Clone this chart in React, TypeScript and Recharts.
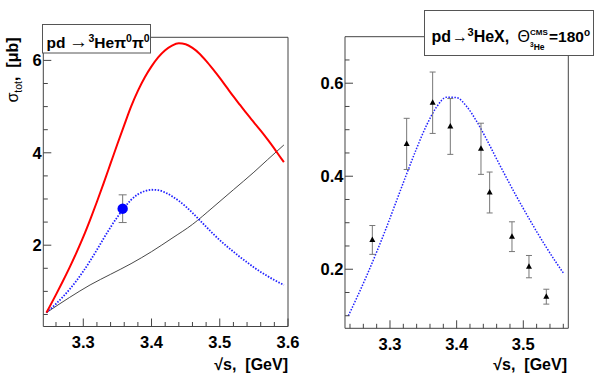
import { ComposedChart, Line, Scatter, XAxis, YAxis, ErrorBar, ReferenceArea } from 'recharts';

// left panel: pd -> 3He pi0 pi0, total cross section [mub] vs sqrt(s) [GeV]
const redCurve = [
  [3.246, 0.54], [3.26, 0.93], [3.27, 1.22], [3.28, 1.52], [3.29, 1.84], [3.3, 2.18],
  [3.31, 2.55], [3.32, 2.94], [3.33, 3.35], [3.34, 3.77], [3.35, 4.19], [3.36, 4.6],
  [3.37, 5.0], [3.38, 5.34], [3.39, 5.63], [3.4, 5.87], [3.41, 6.07], [3.42, 6.22],
  [3.43, 6.32], [3.44, 6.37], [3.45, 6.35], [3.46, 6.27], [3.47, 6.15], [3.48, 5.99],
  [3.49, 5.81], [3.5, 5.62], [3.51, 5.42], [3.52, 5.22], [3.53, 5.03], [3.54, 4.84],
  [3.55, 4.66], [3.56, 4.48], [3.57, 4.29], [3.58, 4.09], [3.59, 3.88], [3.594, 3.8],
];
const blueCurve = [
  [3.246, 0.54], [3.26, 0.73], [3.27, 0.88], [3.28, 1.045], [3.29, 1.23], [3.3, 1.435],
  [3.31, 1.66], [3.32, 1.9], [3.33, 2.15], [3.34, 2.39], [3.35, 2.61], [3.36, 2.81],
  [3.37, 2.98], [3.38, 3.1], [3.39, 3.17], [3.4, 3.2], [3.41, 3.19], [3.42, 3.14],
  [3.43, 3.06], [3.44, 2.96], [3.45, 2.84], [3.46, 2.7], [3.47, 2.55], [3.48, 2.4],
  [3.49, 2.25], [3.5, 2.11], [3.51, 1.98], [3.52, 1.86], [3.53, 1.74], [3.54, 1.63],
  [3.55, 1.52], [3.56, 1.42], [3.57, 1.33], [3.58, 1.245], [3.594, 1.14],
];
const blackCurve = [
  [3.246, 0.54], [3.28, 0.87], [3.31, 1.14], [3.34, 1.37], [3.37, 1.6], [3.4, 1.86],
  [3.43, 2.15], [3.46, 2.45], [3.49, 2.82], [3.52, 3.2], [3.55, 3.58], [3.57, 3.85],
  [3.594, 4.17],
];
const leftPoint = [{ x: 3.3577, y: 2.79, err: 0.3 }];

// right panel: pd -> 3He X at 180 deg
const rightCurve = [
  [3.2375, 0.1], [3.25, 0.138], [3.265, 0.186], [3.28, 0.237], [3.295, 0.291], [3.31, 0.348],
  [3.325, 0.405], [3.34, 0.46], [3.355, 0.51], [3.37, 0.549], [3.385, 0.57], [3.4, 0.569],
  [3.415, 0.55], [3.43, 0.518], [3.445, 0.479], [3.46, 0.437], [3.475, 0.396], [3.49, 0.356],
  [3.505, 0.318], [3.52, 0.281], [3.535, 0.246], [3.55, 0.213], [3.56, 0.192],
];
const rightX = [3.2735, 3.325, 3.364, 3.3905, 3.4365, 3.4495, 3.483, 3.5085, 3.5345];
const rightY = [0.263, 0.4695, 0.558, 0.507, 0.459, 0.365, 0.27, 0.2056, 0.141];
const rightErr = [0.031, 0.055, 0.066, 0.06, 0.055, 0.044, 0.032, 0.024, 0.016];

const leftXTicks = [3.26, 3.28, 3.3, 3.32, 3.34, 3.36, 3.38, 3.4, 3.42, 3.44, 3.46, 3.48, 3.5, 3.52, 3.54, 3.56, 3.58, 3.6];
const leftXMajor = [3.3, 3.4, 3.5, 3.6];
const leftYTicks = [0.5, 1, 1.5, 2, 2.5, 3, 3.5, 4, 4.5, 5, 5.5, 6];
const leftYMajor = [2, 4, 6];
const rightXTicks = [3.24, 3.26, 3.28, 3.3, 3.32, 3.34, 3.36, 3.38, 3.4, 3.42, 3.44, 3.46, 3.48, 3.5, 3.52, 3.54, 3.56];
const rightXMajor = [3.3, 3.4, 3.5];
const rightYTicks = [0.1, 0.15, 0.2, 0.25, 0.3, 0.35, 0.4, 0.45, 0.5, 0.55, 0.6, 0.65];
const rightYMajor = [0.2, 0.4, 0.6];

const toXY = (arr: number[][]) => arr.map(([x, y]) => ({ x, y }));
const rightPoints = rightX.map((x, i) => ({ x, y: rightY[i], err: rightErr[i] }));

const FONT = '"Liberation Sans", Arial, Helvetica, sans-serif';
const TICK_COLOR = '#444';
const NB = '\u00A0';

const isIn = (list: number[], v: number) => list.some((m) => Math.abs(m - v) < 1e-6);

function xTick(majors: number[], fmt: (v: number) => string) {
  return (props: any) => {
    const { x, y, payload } = props;
    const major = isIn(majors, payload.value);
    return (
      <g>
        <line x1={x} x2={x} y1={y} y2={y - (major ? 8 : 4.5)} stroke={TICK_COLOR} strokeWidth={1} />
        {major && (
          <text x={x} y={y + 21.5} textAnchor="middle" fontFamily={FONT} fontWeight="bold" fontSize={16.5} fill="#000">
            {fmt(payload.value)}
          </text>
        )}
      </g>
    );
  };
}

function yTick(majors: number[], fmt: (v: number) => string) {
  return (props: any) => {
    const { x, y, payload } = props;
    const major = isIn(majors, payload.value);
    return (
      <g>
        <line x1={x} x2={x + (major ? 8 : 4.5)} y1={y} y2={y} stroke={TICK_COLOR} strokeWidth={1} />
        {major && (
          <text x={x - 1.5} y={y + 6} textAnchor="end" fontFamily={FONT} fontWeight="bold" fontSize={16.5} fill="#000">
            {fmt(payload.value)}
          </text>
        )}
      </g>
    );
  };
}

const triangle = (props: any) => {
  const { cx, cy } = props;
  return <polygon points={`${cx},${cy - 3.5} ${cx - 3},${cy + 2} ${cx + 3},${cy + 2}`} fill="#000" />;
};

const blueDot = (props: any) => <circle cx={props.cx} cy={props.cy} r={5.2} fill="#0000ff" />;

const LX: [number, number] = [3.2414, 3.6];
const LY: [number, number] = [0.24, 6.5];
const RX: [number, number] = [3.2325, 3.5675];
const RY: [number, number] = [0.073, 0.7];

export default function App() {
  return (
    <div style={{ position: 'absolute', left: 0, top: 0, width: 598, height: 378, background: '#fff' }}>
      <div style={{ position: 'absolute', left: 0, top: 0 }}>
        <ComposedChart width={300} height={378} margin={{ top: 37.3, right: 12, bottom: 0, left: 0 }}>
          <XAxis type="number" dataKey="x" domain={LX} allowDataOverflow ticks={leftXTicks} interval={0}
            height={51.5} tickSize={0} tickMargin={0} axisLine={false} tickLine={false}
            tick={xTick(leftXMajor, (v) => v.toFixed(1))} />
          <YAxis type="number" dataKey="y" domain={LY} allowDataOverflow ticks={leftYTicks} interval={0}
            width={43.3} tickSize={0} tickMargin={0} axisLine={false} tickLine={false}
            tick={yTick(leftYMajor, (v) => String(v))} />
          <ReferenceArea x1={LX[0]} x2={LX[1]} y1={LY[0]} y2={LY[1]} fill="none" stroke="#444" strokeWidth={1} />
          <Line data={toXY(blackCurve)} dataKey="y" type="monotone" stroke="#333" strokeWidth={0.9} dot={false} isAnimationActive={false} />
          <Line data={toXY(blueCurve)} dataKey="y" type="monotone" stroke="#2020ff" strokeWidth={1.8} strokeDasharray="1.5 1.5" dot={false} isAnimationActive={false} />
          <Line data={toXY(redCurve)} dataKey="y" type="monotone" stroke="#ff0000" strokeWidth={2} dot={false} isAnimationActive={false} />
          <Scatter data={leftPoint} dataKey="y" shape={blueDot} isAnimationActive={false}>
            <ErrorBar dataKey="err" direction="y" width={4} stroke="#777" strokeWidth={1} />
          </Scatter>
        </ComposedChart>
      </div>
      <div style={{ position: 'absolute', left: 300, top: 0 }}>
        <ComposedChart width={298} height={378} margin={{ top: 36.7, right: 29.7, bottom: 0, left: 0 }}>
          <XAxis type="number" dataKey="x" domain={RX} allowDataOverflow ticks={rightXTicks} interval={0}
            height={49.7} tickSize={0} tickMargin={0} axisLine={false} tickLine={false}
            tick={xTick(rightXMajor, (v) => v.toFixed(1))} />
          <YAxis type="number" dataKey="y" domain={RY} allowDataOverflow ticks={rightYTicks} interval={0}
            width={45} tickSize={0} tickMargin={0} axisLine={false} tickLine={false}
            tick={yTick(rightYMajor, (v) => v.toFixed(1))} />
          <ReferenceArea x1={RX[0]} x2={RX[1]} y1={RY[0]} y2={RY[1]} fill="none" stroke="#444" strokeWidth={1} />
          <Line data={toXY(rightCurve)} dataKey="y" type="monotone" stroke="#2020ff" strokeWidth={1.5} strokeDasharray="1.5 1.5" dot={false} isAnimationActive={false} />
          <Scatter data={rightPoints} dataKey="y" shape={triangle} isAnimationActive={false}>
            <ErrorBar dataKey="err" direction="y" width={3} stroke="#777" strokeWidth={1} />
          </Scatter>
        </ComposedChart>
      </div>
      <svg width={598} height={378} style={{ position: 'absolute', left: 0, top: 0, pointerEvents: 'none' }}>
        {/* left title box */}
        <rect x={42.5} y={24.5} width={108} height={28.5} fill="#fff" stroke="#555" strokeWidth={1} />
        <text y={47.5} fontFamily={FONT} fontWeight="bold" fontSize={15.5} fill="#000">
          <tspan x={46.5}>pd</tspan>
          <tspan x={69} fontWeight="normal" fontSize={19}>→</tspan>
          <tspan x={88.5} dy={-6} fontSize={10.5}>3</tspan>
          <tspan dy={6}>He</tspan>
          <tspan>π</tspan>
          <tspan dy={-6} fontSize={10.5}>0</tspan>
          <tspan dy={6}>π</tspan>
          <tspan dy={-6} fontSize={10.5}>0</tspan>
        </text>
        {/* right title box */}
        <rect x={424.5} y={10.5} width={169} height={45} fill="#fff" stroke="#555" strokeWidth={1} />
        <text y={41.5} fontFamily={FONT} fontWeight="bold" fontSize={16} fill="#000">
          <tspan x={431.5}>pd</tspan>
          <tspan x={452} fontWeight="normal" fontSize={16}>→</tspan>
          <tspan x={467.5} dy={-6} fontSize={11}>3</tspan>
          <tspan dy={6}>HeX,</tspan>
          <tspan x={517.5} fontWeight="normal">Θ</tspan>
        </text>
        <text x={530} y={35} fontFamily={FONT} fontWeight="bold" fontSize={8} fill="#000">CMS</text>
        <text y={49.5} fontFamily={FONT} fontWeight="bold" fontSize={8.5} fill="#000">
          <tspan x={530} dy={-3} fontSize={6.5}>3</tspan>
          <tspan dy={3}>He</tspan>
        </text>
        <text x={549} y={41.5} fontFamily={FONT} fontWeight="bold" fontSize={15.5} fill="#000">
          =180<tspan dy={-6} fontSize={10}>o</tspan>
        </text>
        {/* y axis title */}
        <text transform="translate(18,70) rotate(-90)" textAnchor="middle" fontFamily={FONT} fontSize={16} fill="#000">
          <tspan>σ</tspan>
          <tspan dy={4} fontSize={10.5}>tot</tspan>
          <tspan dy={-4} fontWeight="bold">{`,${NB}${NB}[μb]`}</tspan>
        </text>
        {/* x axis titles */}
        <text x={288} y={369.5} textAnchor="end" fontFamily={FONT} fontWeight="bold" fontSize={16} fill="#000">{`√s,${NB}${NB}[GeV]`}</text>
        <text x={567} y={369.5} textAnchor="end" fontFamily={FONT} fontWeight="bold" fontSize={16} fill="#000">{`√s,${NB}${NB}[GeV]`}</text>
      </svg>
    </div>
  );
}
